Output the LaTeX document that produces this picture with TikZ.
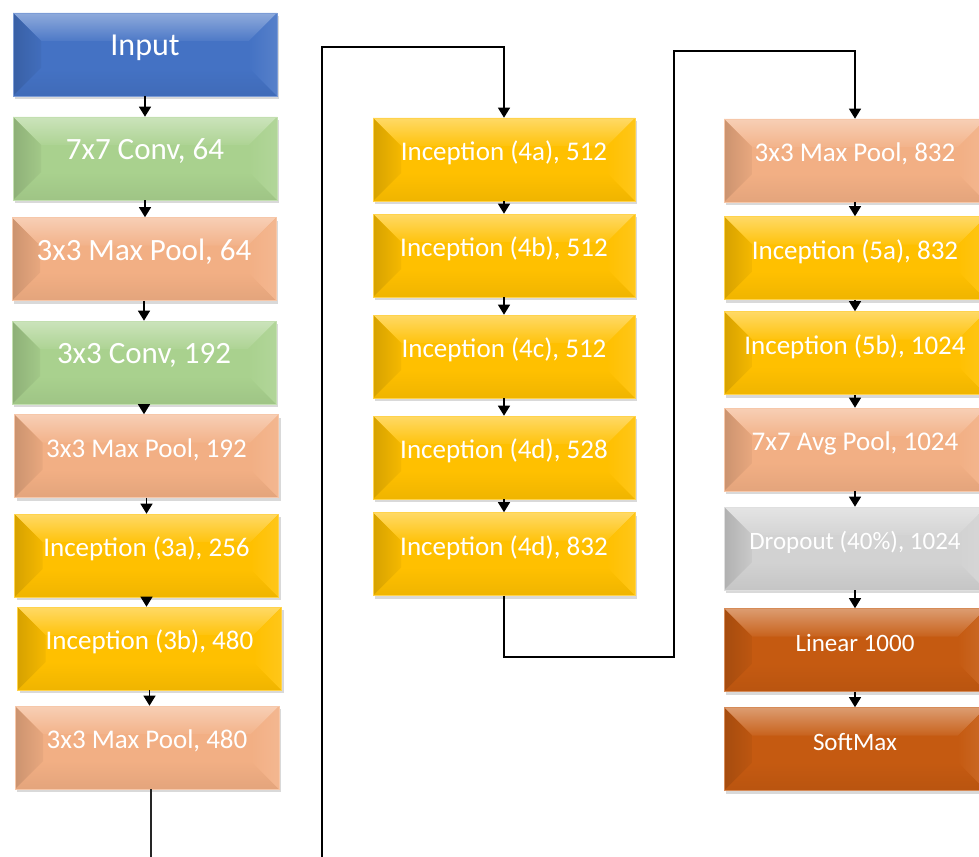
\documentclass[tikz,border=0pt]{standalone}
\usepackage{fontspec}
\setmainfont{Carlito}
\usetikzlibrary{arrows.meta,calc,shadows}
\definecolor{cBlue}{HTML}{4472C4}
\definecolor{cGreen}{HTML}{A9D18E}
\definecolor{cPeach}{HTML}{F2AF84}
\definecolor{cGold}{HTML}{FFC000}
\definecolor{cGray}{HTML}{D2D2D2}
\definecolor{cOrange}{HTML}{C55A11}
\tikzset{
  bev/.style={fill=#1, draw=#1!70!white, line width=0.6pt,
    drop shadow={opacity=0.3, shadow xshift=2pt, shadow yshift=-3pt},
    path picture={
      \coordinate (nw) at (path picture bounding box.north west);
      \coordinate (se) at (path picture bounding box.south east);
      \shade[top color=#1!60!white, bottom color=#1!95!white]
        (nw) -- (se |- nw) -- ($(se |- nw)+(-28pt,-28pt)$) -- ($(nw)+(28pt,-28pt)$) -- cycle;
      \shade[top color=#1, bottom color=#1!94!black]
        (nw |- se) -- (se) -- ($(se)+(-28pt,28pt)$) -- ($(nw |- se)+(28pt,28pt)$) -- cycle;
      \shade[left color=#1!84!black, right color=#1!96!black]
        (nw) -- ($(nw)+(28pt,-28pt)$) -- ($(nw |- se)+(28pt,28pt)$) -- (nw |- se) -- cycle;
      \shade[left color=#1, right color=#1!90!white]
        (se |- nw) -- ($(se |- nw)+(-28pt,-28pt)$) -- ($(se)+(-28pt,28pt)$) -- (se) -- cycle;
    }},
  blk/.style={bev=#1, minimum width=264pt, minimum height=83pt, inner sep=0pt,
    text=white, text height=2pt, text depth=0pt, font=\fontsize{27}{30}\selectfont},
  w2/.style={minimum width=262pt},
  big/.style={font=\fontsize{31}{34}\selectfont},
  sm/.style={font=\fontsize{25}{28}\selectfont},
  arr/.style={draw=black, line width=1.2pt, -{Triangle[width=12pt,length=10pt]}},
  ln/.style={draw=black!85, line width=1.2pt},
}
\begin{document}
\begin{tikzpicture}[x=1pt,y=-1pt]
\useasboundingbox (0,0) rectangle (979,856);
\clip (0,0) rectangle (979,856);
% column 1
\node[blk=cBlue, font=\fontsize{32}{35}\selectfont] (inp) at (145,54.5) {Input};
\node[blk=cGreen, big] (c7) at (145,158.5) {7x7 Conv, 64};
\node[blk=cPeach, big] (mp64) at (144,259) {3x3 Max Pool, 64};
\node[blk=cGreen, big] (c3) at (144,362.5) {3x3 Conv, 192};
\node[blk=cPeach] (mp192) at (146.5,456) {3x3 Max Pool, 192};
\node[blk=cGold] (i3a) at (146.5,555.5) {Inception (3a), 256};
\node[blk=cGold] (i3b) at (149.5,648.5) {Inception (3b), 480};
\node[blk=cPeach] (mp480) at (147,747.5) {3x3 Max Pool, 480};
% column 2
\node[blk=cGold, w2] (i4a) at (504,159.5) {Inception (4a), 512};
\node[blk=cGold, w2] (i4b) at (504,255.5) {Inception (4b), 512};
\node[blk=cGold, w2] (i4c) at (504,356.5) {Inception (4c), 512};
\node[blk=cGold, w2] (i4d) at (504,457.5) {Inception (4d), 528};
\node[blk=cGold, w2] (i4e) at (504,554) {Inception (4d), 832};
% column 3
\node[blk=cPeach, w2] (mp832) at (855,160.5) {3x3 Max Pool, 832};
\node[blk=cGold, w2] (i5a) at (855,258) {Inception (5a), 832};
\node[blk=cGold, w2] (i5b) at (855,353) {Inception (5b), 1024};
\node[blk=cPeach, w2] (avg) at (855,449.5) {7x7 Avg Pool, 1024};
\node[blk=cGray, w2, sm] (drop) at (855,548.5) {Dropout (40\%), 1024};
\node[blk=cOrange, w2, sm] (lin) at (855,650) {Linear 1000};
\node[blk=cOrange, w2, sm] (soft) at (855,749) {SoftMax};
% arrows column 1
\draw[arr] (inp.south) -- (inp.south |- c7.north);
\draw[arr] (c7.south) -- (c7.south |- mp64.north);
\draw[arr] (mp64.south) -- (mp64.south |- c3.north);
\draw[arr] (c3.south) -- (c3.south |- mp192.north);
\draw[arr] (mp192.south) -- (mp192.south |- i3a.north);
\draw[arr] (i3a.south) -- (i3a.south |- i3b.north);
\draw[arr] (i3b.south) -- (i3b.south |- mp480.north);
% arrows column 2
\draw[arr] (i4a.south) -- (i4a.south |- i4b.north);
\draw[arr] (i4b.south) -- (i4b.south |- i4c.north);
\draw[arr] (i4c.south) -- (i4c.south |- i4d.north);
\draw[arr] (i4d.south) -- (i4d.south |- i4e.north);
% arrows column 3
\draw[arr] (mp832.south) -- (mp832.south |- i5a.north);
\draw[arr] (i5a.south) -- (i5a.south |- i5b.north);
\draw[arr] (i5b.south) -- (i5b.south |- avg.north);
\draw[arr] (avg.south) -- (avg.south |- drop.north);
\draw[arr] (drop.south) -- (drop.south |- lin.north);
\draw[arr] (lin.south) -- (lin.south |- soft.north);
% long connectors
\coordinate (e1) at (151,858);
\coordinate (e2) at (322,858);
\coordinate (t1) at (322,47);
\coordinate (b1) at (674,657);
\coordinate (t2) at (674,51);
\draw[ln] (mp480.south -| e1) -- (e1);
\draw[arr] (e2) -- (t1) -| (i4a.north);
\draw[arr] (i4e.south) |- (b1) -- (t2) -| (mp832.north);
\end{tikzpicture}
\end{document}
